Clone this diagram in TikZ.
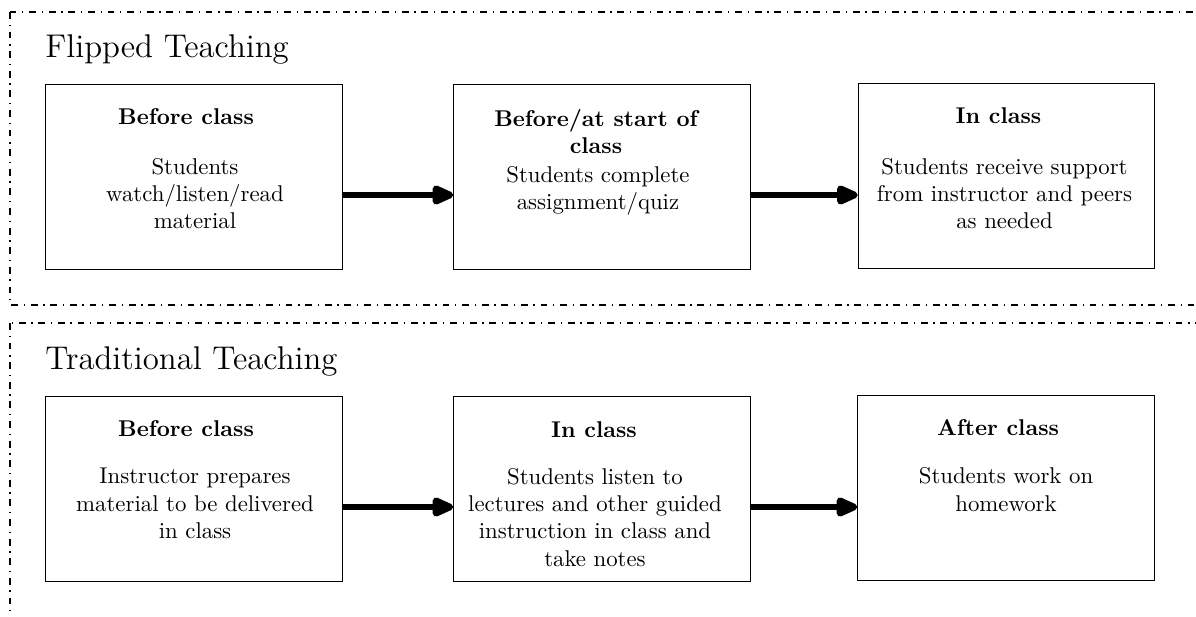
\documentclass[tikz,border=0pt]{standalone}
\usetikzlibrary{arrows.meta,calc}
\begin{document}
\begin{tikzpicture}[x=0.4386pt,y=-0.4386pt,
  frame/.style={line width=0.6pt, dash pattern=on 3pt off 2.5pt on 0.6pt off 2.5pt},
  box/.style={draw, line width=0.5pt, minimum width=130pt, minimum height=81.5pt, inner sep=0pt},
  boxtitle/.style={font=\bfseries, align=flush center, text width=112pt, inner sep=0pt, anchor=north},
  boxbody/.style={align=flush center, text width=112pt, inner sep=0pt, anchor=north},
  section/.style={font=\Large, inner sep=0pt, anchor=base west},
  flow/.style={line width=3pt, -{Triangle[length=11.5pt,width=9pt,round]}}]
\clip (0,0) rectangle (1196,616);
\useasboundingbox (0,0) rectangle (1196,616);
% frames
\coordinate (f1a) at (10,12);
\coordinate (f1b) at (1230,305);
\coordinate (f2a) at (10,323);
\coordinate (f2b) at (1230,650);
\draw[frame] (f1a) rectangle (f1b);
\draw[frame] (f2a) rectangle (f2b);
\node[section] (s1) at (45,57) {Flipped Teaching};
\node[section] (s2) at (45,369) {Traditional Teaching};
% row 1
\node[box] (b11) at (194,177) {};
\node[box] (b12) at (602,177) {};
\node[box] (b13) at (1006.5,176) {};
\node[boxtitle] (t11) at ($(b11.north)+(-8,21)$) {\strut Before class};
\node[boxbody] (d11) at ($(b11.north)+(1,71)$) {\strut Students watch/listen/read material};
\node[boxtitle] (t12) at ($(b12.north)+(-6,23)$) {\strut Before/at start of class};
\node[boxbody] (d12) at ($(b12.north)+(-4,79)$) {\strut Students complete assignment/quiz};
\node[boxtitle] (t13) at ($(b13.north)+(-8,21)$) {\strut In class};
\node[boxbody] (d13) at ($(b13.north)+(-2,72)$) {\strut Students receive support from instructor and peers as needed};
\draw[flow] ($(b11.east)+(0,18)$) -- ($(b12.west)+(0,18)$);
\draw[flow] ($(b12.east)+(0,18)$) -- ($(b13.west)+(0,19)$);
% row 2
\node[box] (b21) at (194,489) {};
\node[box] (b22) at (602,489) {};
\node[box] (b23) at (1006,488) {};
\node[boxtitle] (t21) at ($(b21.north)+(-8,21)$) {\strut Before class};
\node[boxbody] (d21) at ($(b21.north)+(1,68.5)$) {\strut Instructor prepares material to be delivered in class};
\node[boxtitle] (t22) at ($(b22.north)+(-8,22)$) {\strut In class};
\node[boxbody] (d22) at ($(b22.north)+(-7,69)$) {\strut Students listen to lectures and other guided instruction in class and take notes};
\node[boxtitle] (t23) at ($(b23.north)+(-8,21.5)$) {\strut After class};
\node[boxbody] (d23) at ($(b23.north)+(0,69.5)$) {\strut Students work on homework};
\draw[flow] ($(b21.east)+(0,18)$) -- ($(b22.west)+(0,18)$);
\draw[flow] ($(b22.east)+(0,18)$) -- ($(b23.west)+(0,19)$);
\end{tikzpicture}
\end{document}
